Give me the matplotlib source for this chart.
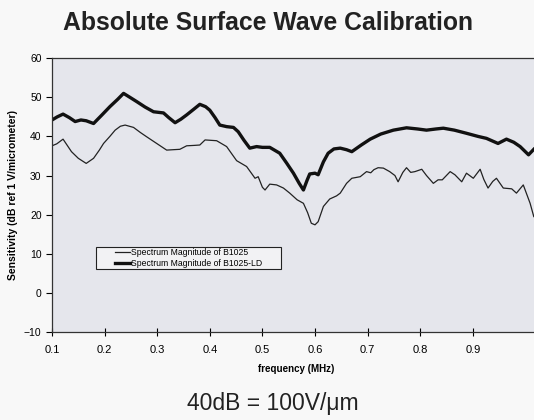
import matplotlib
matplotlib.use('Agg')
import matplotlib.pyplot as plt
from matplotlib.patches import Rectangle

plt.rcParams['font.family'] = ['Liberation Sans', 'DejaVu Sans']

# B1025-LD (thick line)
ld_freq = [0.100, 0.110, 0.121, 0.133, 0.144, 0.155, 0.165, 0.179, 0.195, 0.210,
           0.225, 0.236, 0.248, 0.261, 0.277, 0.293, 0.312, 0.322, 0.334, 0.345,
           0.356, 0.370, 0.381, 0.392, 0.400, 0.410, 0.419, 0.432, 0.445, 0.454,
           0.465, 0.476, 0.489, 0.500, 0.514, 0.533, 0.546, 0.559, 0.570, 0.578,
           0.585, 0.590, 0.600, 0.606, 0.616, 0.625, 0.636, 0.648, 0.660, 0.670,
           0.688, 0.705, 0.725, 0.749, 0.774, 0.795, 0.812, 0.830, 0.844, 0.865,
           0.888, 0.910, 0.926, 0.948, 0.964, 0.978, 0.990, 1.006, 1.016]
ld_db = [44.2, 45.0, 45.7, 44.8, 43.8, 44.2, 44.0, 43.3, 45.5, 47.6,
         49.5, 51.0, 50.0, 48.9, 47.5, 46.3, 46.0, 44.8, 43.5, 44.4,
         45.5, 47.0, 48.2, 47.6, 46.7, 44.8, 42.9, 42.5, 42.3, 41.2,
         39.0, 37.0, 37.4, 37.2, 37.2, 35.7, 33.2, 30.6, 28.0, 26.3,
         28.8, 30.4, 30.6, 30.2, 33.5, 35.7, 36.8, 37.0, 36.6, 36.1,
         37.8, 39.3, 40.6, 41.6, 42.2, 41.9, 41.6, 41.9, 42.1, 41.6,
         40.8, 40.0, 39.5, 38.2, 39.3, 38.5, 37.4, 35.3, 36.7]

# B1025 (thin line)
b_freq = [0.100, 0.109, 0.121, 0.130, 0.137, 0.150, 0.165, 0.179, 0.190, 0.198,
          0.210, 0.220, 0.230, 0.239, 0.255, 0.268, 0.280, 0.299, 0.318, 0.330,
          0.343, 0.356, 0.370, 0.381, 0.391, 0.413, 0.432, 0.442, 0.451, 0.470,
          0.486, 0.492, 0.500, 0.505, 0.514, 0.527, 0.540, 0.552, 0.566, 0.578,
          0.586, 0.593, 0.600, 0.606, 0.616, 0.628, 0.641, 0.648, 0.660, 0.670,
          0.686, 0.698, 0.706, 0.712, 0.720, 0.730, 0.742, 0.752, 0.758, 0.767,
          0.774, 0.782, 0.790, 0.803, 0.812, 0.825, 0.834, 0.842, 0.857, 0.866,
          0.879, 0.888, 0.901, 0.914, 0.921, 0.929, 0.938, 0.945, 0.958, 0.974,
          0.983, 0.996, 1.009, 1.016]
b_db = [37.6, 38.1, 39.3, 37.5, 36.1, 34.4, 33.1, 34.4, 36.5, 38.2,
        40.0, 41.6, 42.6, 42.9, 42.3, 41.0, 39.9, 38.2, 36.5, 36.6,
        36.7, 37.6, 37.7, 37.8, 39.1, 38.9, 37.4, 35.5, 33.8, 32.3,
        29.3, 29.7, 27.0, 26.3, 27.8, 27.6, 26.8, 25.5, 23.8, 22.9,
        20.5, 17.8, 17.4, 18.2, 22.1, 24.0, 24.8, 25.5, 28.0, 29.3,
        29.7, 31.0, 30.7, 31.5, 32.0, 31.9, 31.0, 30.0, 28.4, 30.8,
        32.0, 30.8, 31.0, 31.6, 30.0, 28.0, 28.9, 28.9, 31.0, 30.2,
        28.4, 30.6, 29.3, 31.6, 29.0, 26.8, 28.5, 29.3, 26.8, 26.6,
        25.5, 27.6, 22.9, 19.5]

x_ticks = [0.1, 0.2, 0.3, 0.4, 0.5, 0.6, 0.7, 0.8, 0.9]
y_ticks = [-10, 0, 10, 20, 30, 40, 50, 60]

fig = plt.figure(figsize=(5.34, 4.2), dpi=100, facecolor='#f8f8f8')
ax = fig.add_axes([0.0974, 0.2095, 0.916, 0.652])
ax.set_facecolor('#e5e6ec')

ax.plot(b_freq, b_db, color='#222222', lw=0.9, label='Spectrum Magnitude of B1025')
ax.plot(ld_freq, ld_db, color='#111111', lw=2.4, label='Spectrum Magnitude of B1025-LD')

ax.set_xlim(0.1, 1.03)
ax.set_ylim(-10, 60)
ax.set_xticks(x_ticks)
ax.set_xticklabels(['%.1f' % t for t in x_ticks])
ax.set_yticks(y_ticks)
ax.tick_params(axis='x', direction='inout', length=6, width=0.8, labelsize=8, pad=6)
ax.tick_params(axis='y', direction='out', length=4, width=0.8, labelsize=7.5)
for s in ['left', 'bottom', 'top']:
    ax.spines[s].set_linewidth(0.9)
    ax.spines[s].set_color('#333333')
ax.spines['right'].set_visible(False)

ax.set_xlabel('frequency (MHz)', fontsize=7, fontweight='bold', labelpad=7)
ax.set_ylabel('Sensitivity (dB ref 1 V/micrometer)', fontsize=7.5, fontweight='bold', labelpad=4)

# legend box drawn separately so the entries sit centred in a wider frame
box = Rectangle((0.09, 0.229), 0.378, 0.082, transform=ax.transAxes,
                facecolor='#f2f2f4', edgecolor='#222222', lw=0.8, zorder=4)
ax.add_patch(box)
leg = ax.legend(loc='center', bbox_to_anchor=(0.09 + 0.189, 0.229 + 0.041),
                fontsize=6.2, frameon=False, borderaxespad=0, borderpad=0,
                labelspacing=0.2, handlelength=1.75, handletextpad=0.1)
leg.set_zorder(5)

fig.text(0.502, 0.945, 'Absolute Surface Wave Calibration', ha='center', va='center',
         fontsize=17.8, fontweight='bold', color='#222222')
fig.text(0.51, 0.039, '40dB = 100V/\u03bcm', ha='center', va='center',
         fontsize=16.5, color='#222222')

fig.savefig('out.png', dpi=100, facecolor=fig.get_facecolor())
